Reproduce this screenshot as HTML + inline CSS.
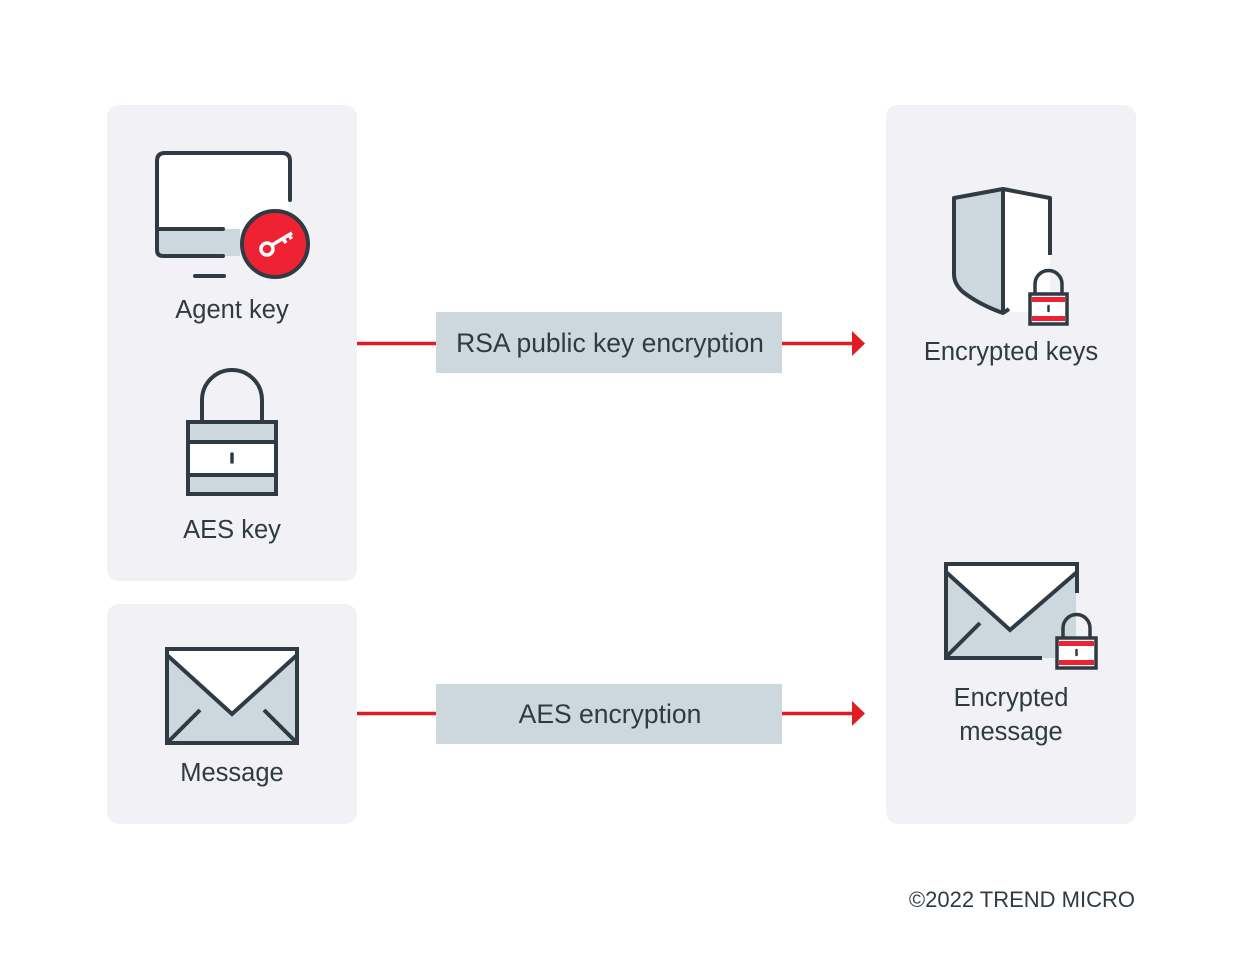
<!DOCTYPE html>
<html><head><meta charset="utf-8"><style>
html,body{margin:0;padding:0;background:#fff;}
svg{display:block;}
text{font-family:"Liberation Sans",sans-serif;fill:#2f3a42;}
</style></head><body>
<svg width="1240" height="970" viewBox="0 0 1240 970" xmlns="http://www.w3.org/2000/svg">
<rect x="0" y="0" width="1240" height="970" fill="#ffffff"/>
<!-- panels -->
<rect x="107" y="105" width="250" height="476" rx="12" fill="#f2f1f6"/>
<rect x="107" y="604" width="250" height="220" rx="12" fill="#f2f1f6"/>
<rect x="886" y="105" width="250" height="719" rx="12" fill="#f2f1f6"/>

<!-- connectors -->
<g stroke="#e01b22" stroke-width="3.5" fill="none">
<line x1="357" y1="343.5" x2="436" y2="343.5"/>
<line x1="782" y1="343.5" x2="854" y2="343.5"/>
<line x1="357" y1="713.5" x2="436" y2="713.5"/>
<line x1="782" y1="713.5" x2="854" y2="713.5"/>
</g>
<polygon points="852,331 865,343.5 852,356" fill="#e01b22"/>
<polygon points="852,701 865,713.5 852,726" fill="#e01b22"/>

<!-- label boxes -->
<rect x="436" y="312" width="346" height="61" fill="#cdd8de"/>
<rect x="436" y="684" width="346" height="60" fill="#cdd8de"/>
<text x="610" y="352" font-size="26.5" text-anchor="middle">RSA public key encryption</text>
<text x="610" y="723" font-size="26.5" text-anchor="middle">AES encryption</text>

<!-- monitor -->
<g stroke="#2f3a42" stroke-width="4" fill="none" stroke-linecap="round">
<path d="M157,229 L240,229 L240,256 L157,256 Z" fill="#cdd8de" stroke="none"/>
<rect x="157" y="153" width="133" height="76" fill="#ffffff" stroke="none"/>
<path d="M223,256 L163,256 Q157,256 157,250 L157,161 Q157,153 165,153 L282,153 Q290,153 290,161 L290,200"/>
<line x1="157" y1="229" x2="223" y2="229"/>
<line x1="195" y1="276" x2="224" y2="276"/>
</g>
<circle cx="275" cy="244" r="33" fill="#ee2233" stroke="#2f3a42" stroke-width="4"/>
<g stroke="#ffffff" stroke-width="3.5" fill="none" stroke-linecap="butt">
<circle cx="267" cy="249" r="6"/>
<path d="M272,245 L292,233"/>
<path d="M283,238.5 L286,243"/>
<path d="M289,235 L291.5,239"/>
</g>
<text x="232" y="318" font-size="25.5" text-anchor="middle">Agent key</text>

<!-- AES padlock -->
<g stroke="#2f3a42" stroke-width="4" fill="none">
<path d="M202,422 L202,400 A30,30 0 0 1 262,400 L262,422"/>
<rect x="188" y="422" width="88" height="72" fill="#cdd8de"/>
<rect x="190" y="443" width="84" height="31" fill="#ffffff" stroke="none"/>
<line x1="188" y1="442" x2="276" y2="442"/>
<line x1="188" y1="475" x2="276" y2="475"/>
</g>
<line x1="232" y1="454" x2="232" y2="462" stroke="#2f3a42" stroke-width="3.5" stroke-linecap="round"/>
<text x="232" y="538" font-size="25.5" text-anchor="middle">AES key</text>

<!-- message envelope -->
<g stroke="#2f3a42" stroke-width="4" fill="none">
<rect x="167" y="649" width="130" height="94" fill="#cdd8de"/>
<path d="M167,651 L232,651 L297,651 L297,657 L232,714 L167,657 Z" fill="#ffffff" stroke="none"/>
<rect x="167" y="649" width="130" height="94"/>
<path d="M167,655 L232,714 L297,655"/>
<path d="M168,742 L200,710"/>
<path d="M264,710 L296,742"/>
</g>
<text x="232" y="781" font-size="25.5" text-anchor="middle">Message</text>

<!-- shield -->
<g stroke="#2f3a42" stroke-width="4" fill="none" stroke-linejoin="round">
<path d="M954,198 L1003,189 L1003,312 Q975,300 962,290 Q954,282 954,272 Z" fill="#cdd8de" stroke="none"/>
<path d="M1003,189 L1050,198 L1050,312 L1003,312 Z" fill="#ffffff" stroke="none"/>
<path d="M1050,255 L1050,198 L1003,189 L954,198 L954,274 Q954,284 963,292 Q980,305 1003,313 L1009,309"/>
<line x1="1003" y1="189" x2="1003" y2="312"/>
</g>
<!-- small lock shield -->
<g stroke="#2f3a42" stroke-width="3.5" fill="none">
<path d="M1035,294 L1035,284 A13.5,13.5 0 0 1 1062,284 L1062,294"/>
<rect x="1030" y="294" width="37" height="30" fill="#ffffff"/>
<rect x="1032" y="297" width="33" height="5" fill="#ee2233" stroke="none"/>
<rect x="1032" y="316" width="33" height="5" fill="#ee2233" stroke="none"/>
</g>
<line x1="1048.5" y1="306" x2="1048.5" y2="311" stroke="#2f3a42" stroke-width="2.5" stroke-linecap="round"/>
<text x="1011" y="360" font-size="25.5" text-anchor="middle">Encrypted keys</text>

<!-- encrypted envelope -->
<g stroke="#2f3a42" stroke-width="4" fill="none">
<rect x="946" y="565" width="130" height="93" fill="#cdd8de" stroke="none"/>
<path d="M946,565 L1076,565 L1076,573 L1010,630 L946,573 Z" fill="#ffffff" stroke="none"/>
<path d="M1042,658 L946,658 L946,564 L1077,564 L1077,593"/>
<path d="M946,572 L1010,630 L1077,572"/>
<path d="M947,656 L980,623"/>
</g>
<g stroke="#2f3a42" stroke-width="3.5" fill="none">
<path d="M1063,638 L1063,628 A13.5,13.5 0 0 1 1090,628 L1090,638"/>
<rect x="1057" y="638" width="39" height="30" fill="#ffffff"/>
<rect x="1059" y="641" width="35" height="5" fill="#ee2233" stroke="none"/>
<rect x="1059" y="660" width="35" height="5" fill="#ee2233" stroke="none"/>
</g>
<line x1="1076.5" y1="650" x2="1076.5" y2="655" stroke="#2f3a42" stroke-width="2.5" stroke-linecap="round"/>
<text x="1011" y="706" font-size="25.5" text-anchor="middle">Encrypted</text>
<text x="1011" y="740" font-size="25.5" text-anchor="middle">message</text>

<!-- copyright -->
<text x="1135" y="907" font-size="22" text-anchor="end">©2022 TREND MICRO</text>
</svg>
</body></html>
